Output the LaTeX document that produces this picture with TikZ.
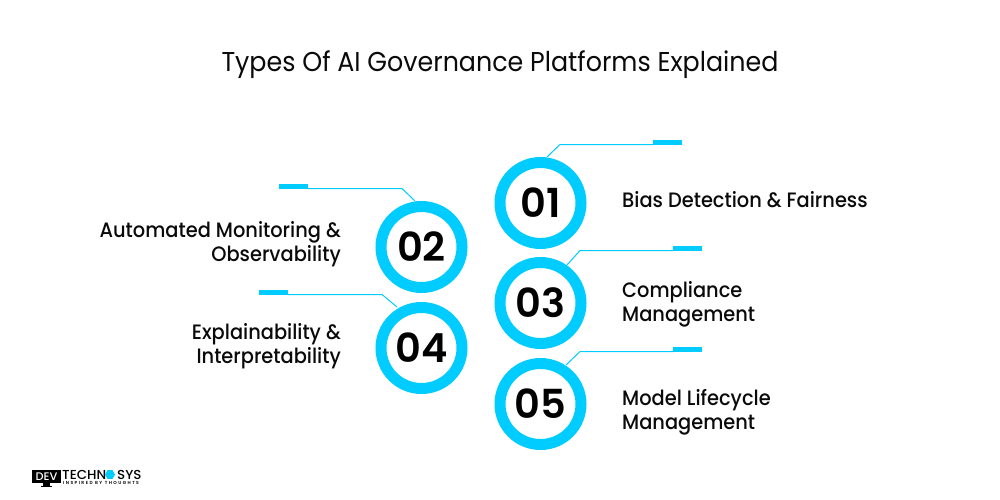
\documentclass[tikz,border=0pt]{standalone}
\usepackage{fontspec}
\usetikzlibrary{shapes.geometric}
\setmainfont{Poppins}
\newfontfamily\medfont[FakeStretch=0.93]{Poppins Medium}
\newfontfamily\regfont[FakeStretch=0.93]{Poppins}
\newfontfamily\numfont{Poppins SemiBold}
\newfontfamily\logofont[FakeStretch=1.03]{Poppins Medium}
\newfontfamily\tagfont[LetterSpace=33]{Poppins SemiBold}
\definecolor{ringblue}{HTML}{00CCFF}
\definecolor{inkblack}{HTML}{0A0A0A}
\tikzset{
  x=1pt,y=-1pt,
  ring/.style={circle,draw=ringblue,line width=11pt,minimum size=81pt,inner sep=0pt,text=black,font=\numfont\fontsize{40}{40}\selectfont},
  leader/.style={draw=ringblue,line width=1pt},
  barmark/.style={fill=ringblue,draw=none},
  label/.style={font=\medfont\fontsize{20.85}{24.3}\selectfont,text=inkblack,inner sep=0pt},
  title/.style={font=\regfont\fontsize{27.25}{30}\selectfont,text=inkblack,inner sep=0pt},
  logotext/.style={inner sep=0pt,anchor=base west,text=black,font=\logofont\fontsize{13}{13}\selectfont}
}
\begin{document}
\begin{tikzpicture}
\useasboundingbox (0,0) rectangle (1000,500);
\node[title] (heading) at (500,64.5) {Types Of AI Governance Platforms Explained};
% rings
\node[ring] (n1) at (540.5,203) {01};
\node[ring] (n2) at (421.5,247) {02};
\node[ring] (n3) at (540.5,303) {03};
\node[ring] (n4) at (421.5,348) {04};
\node[ring] (n5) at (540.5,404) {05};
% leaders
\coordinate (k1) at (560,144.5); \coordinate (b1) at (653,144.5);
\coordinate (k2) at (402,188.5); \coordinate (b2) at (308,188.5);
\coordinate (k3) at (580,250.5); \coordinate (b3) at (673,250.5);
\coordinate (k4) at (382,294.5); \coordinate (b4) at (288,294.5);
\coordinate (k5) at (580,351.5); \coordinate (b5) at (673,351.5);
\draw[leader] (547,157) -- (k1) -- (b1);
\draw[leader] (415,201) -- (k2) -- (b2);
\draw[leader] (567,265) -- (k3) -- (b3);
\draw[leader] (397,307) -- (k4) -- (b4);
\draw[leader] (566,365) -- (k5) -- (b5);
\fill[barmark] (653,140) rectangle (682,145);
\fill[barmark] (279,184) rectangle (308,189);
\fill[barmark] (673,246) rectangle (702,251);
\fill[barmark] (259,290) rectangle (288,295);
\fill[barmark] (673,347) rectangle (702,352);
% labels
\node[label,anchor=west,align=left] (t1) at (622,199.5) {Bias Detection \& Fairness};
\node[label,anchor=east,align=right] (t2) at (341,244) {Automated Monitoring \&\\Observability};
\node[label,anchor=west,align=left] (t3) at (622,304.5) {Compliance\\Management};
\node[label,anchor=east,align=right] (t4) at (341,346.5) {Explainability \&\\Interpretability};
\node[label,anchor=west,align=left] (t5) at (622,412) {Model Lifecycle\\Management};
% logo
\fill[black] (32,470) rectangle (61,483);
\fill[black] (43,483) rectangle (50,485.5);
\fill[black] (41,485.5) rectangle (52,486.5);
\node[inner sep=0pt,text=white,font=\logofont\fontsize{11}{11}\selectfont] (logod) at (46.5,477) {DEV};
\node[logotext] (logot) at (62,479) {TECHN};
\node[regular polygon,regular polygon sides=6,fill=ringblue,minimum size=10pt,inner sep=0pt] (logoh) at (110,474.5) {};
\node[logotext] (logos) at (117,479) {SYS};
\node[inner sep=0pt,anchor=base west,text=black,font=\tagfont\fontsize{4.4}{5}\selectfont] (logoi) at (63,484.5) {INSPIRED BY THOUGHTS};
\end{tikzpicture}
\end{document}
